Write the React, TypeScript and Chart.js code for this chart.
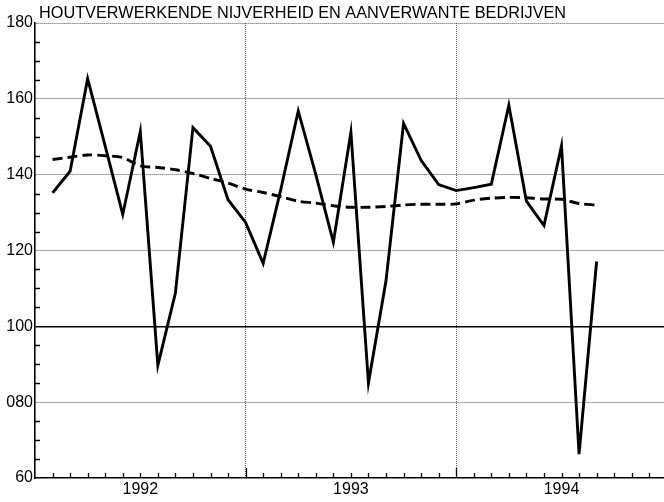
import React, { useEffect, useRef } from 'react';
import { Chart, registerables } from 'chart.js';

Chart.register(...registerables);

const TITLE = 'HOUTVERWERKENDE NIJVERHEID EN AANVERWANTE BEDRIJVEN';

const periods = [
  '1992-01', '1992-02', '1992-03', '1992-04', '1992-05', '1992-06',
  '1992-07', '1992-08', '1992-09', '1992-10', '1992-11', '1992-12',
  '1993-01', '1993-02', '1993-03', '1993-04', '1993-05', '1993-06',
  '1993-07', '1993-08', '1993-09', '1993-10', '1993-11', '1993-12',
  '1994-01', '1994-02', '1994-03', '1994-04', '1994-05', '1994-06',
  '1994-07', '1994-08',
];

const monthly = [
  135.2, 140.9, 165.3, 147.5, 129.5, 151.4, 89.7, 108.8, 152.4, 147.5, 133.4, 127.4,
  116.6, 136.0, 156.8, 140.0, 122.2, 151.2, 85.1, 112.0, 153.5, 143.8, 137.4, 135.8,
  136.6, 137.5, 158.3, 133.0, 126.6, 147.6, 66.3, 117.1,
];

const trend = [
  144.0, 144.6, 145.2, 145.0, 144.5, 142.3, 141.9, 141.3, 140.3, 139.0, 137.8, 136.2,
  135.3, 134.2, 133.0, 132.5, 131.8, 131.4, 131.4, 131.6, 132.0, 132.2, 132.2, 132.3,
  133.3, 133.8, 134.0, 133.9, 133.6, 133.5, 132.4, 132.0,
];

const yearLabels = ['1992', '1993', '1994'];
const firstYear = 1992;
const yTickValues = [60, 80, 100, 120, 140, 160, 180];
const yTickLabels = ['60', '080', '100', '120', '140', '160', '180'];

const FONT = '"Liberation Sans", Arial, sans-serif';
const DOT = '#555';

function monthIndex(p: string): number {
  const [y, m] = p.split('-').map(Number);
  return (y - firstYear) * 12 + m;
}

const titlePlugin = {
  id: 'leftTitle',
  afterDraw(chart: any) {
    const { ctx, chartArea } = chart;
    ctx.save();
    ctx.fillStyle = '#000';
    ctx.font = `16.3px ${FONT}`;
    ctx.textBaseline = 'alphabetic';
    ctx.textAlign = 'left';
    ctx.fillText(TITLE, chartArea.left + 4, 18.4);
    ctx.restore();
  },
};

const innerTicksPlugin = {
  id: 'innerTicks',
  afterDraw(chart: any) {
    const { ctx, chartArea } = chart;
    const xs = chart.scales.x;
    const ys = chart.scales.y;
    ctx.save();
    ctx.strokeStyle = '#000';
    ctx.lineWidth = 1.3;
    ctx.beginPath();
    const maxMonth = Math.floor(xs.max);
    for (let m = 1; m <= maxMonth; m++) {
      const px = Math.round(xs.getPixelForValue(m)) + 0.5;
      const len = m % 12 === 0 ? 10 : 5;
      ctx.moveTo(px, chartArea.bottom);
      ctx.lineTo(px, chartArea.bottom - len);
    }
    for (let v = ys.min + 5; v < ys.max; v += 5) {
      if (v % 20 === 0) continue;
      const py = Math.round(ys.getPixelForValue(v)) + 0.5;
      ctx.moveTo(chartArea.left, py);
      ctx.lineTo(chartArea.left + 5, py);
    }
    ctx.stroke();
    ctx.restore();
  },
};

export default function App() {
  const canvasRef = useRef<HTMLCanvasElement | null>(null);

  useEffect(() => {
    if (!canvasRef.current) return;
    const xs = periods.map(monthIndex);
    const chart = new Chart(canvasRef.current, {
      type: 'line',
      data: {
        datasets: [
          {
            label: 'Index',
            data: xs.map((x, i) => ({ x, y: monthly[i] })),
            borderColor: '#000',
            borderWidth: 2.9,
            pointRadius: 0,
            tension: 0,
            fill: false,
          },
          {
            label: 'Trend',
            data: xs.map((x, i) => ({ x, y: trend[i] })),
            borderColor: '#000',
            borderWidth: 2.9,
            borderDash: [10, 5],
            pointRadius: 0,
            tension: 0.3,
            fill: false,
          },
        ],
      },
      options: {
        animation: false,
        responsive: false,
        maintainAspectRatio: false,
        layout: { padding: { top: 23, left: 0, right: 0, bottom: 0 } },
        plugins: {
          legend: { display: false },
          title: { display: false },
          tooltip: { enabled: false },
        },
        scales: {
          x: {
            type: 'linear',
            min: 0,
            max: 35.84,
            afterBuildTicks: (scale: any) => {
              const t: any[] = [];
              yearLabels.forEach((_, i) => {
                t.push({ value: i * 12 + 6 });
                if (i > 0) t.push({ value: i * 12 });
              });
              t.sort((a, b) => a.value - b.value);
              scale.ticks = t;
            },
            afterFit: (scale: any) => {
              scale.height = 24;
            },
            ticks: {
              autoSkip: false,
              maxRotation: 0,
              padding: 2,
              color: '#000',
              font: { family: FONT, size: 16 },
              callback: (v: any) => {
                const n = Number(v);
                if (n % 12 === 6) return yearLabels[(n - 6) / 12];
                return '';
              },
            },
            grid: {
              drawTicks: false,
              color: (c: any) =>
                c.tick && c.tick.value % 12 === 0 ? DOT : 'rgba(0,0,0,0)',
              lineWidth: 1,
            },
            border: {
              display: true,
              color: '#000',
              width: 1.6,
              dash: (c: any) => (c.tick ? [1, 1] : []),
            },
          },
          y: {
            type: 'linear',
            min: 60,
            max: 180,
            afterBuildTicks: (scale: any) => {
              scale.ticks = yTickValues.map((v) => ({ value: v }));
            },
            afterFit: (scale: any) => {
              scale.width = 35;
            },
            ticks: {
              padding: 2,
              color: '#000',
              font: { family: FONT, size: 16 },
              callback: (v: any) => {
                const i = yTickValues.indexOf(Number(v));
                return i >= 0 ? yTickLabels[i] : '';
              },
            },
            grid: {
              drawTicks: false,
              color: (c: any) => {
                if (!c.tick) return DOT;
                if (c.tick.value === 100) return '#000';
                if (c.tick.value === 60) return 'rgba(0,0,0,0)';
                return DOT;
              },
              lineWidth: (c: any) => (c.tick && c.tick.value === 100 ? 1.6 : 1),
            },
            border: {
              display: true,
              color: '#000',
              width: 1.6,
              dash: (c: any) => (c.tick && c.tick.value !== 100 ? [1, 1] : []),
            },
          },
        },
      },
      plugins: [innerTicksPlugin, titlePlugin],
    });
    return () => chart.destroy();
  }, []);

  return (
    <div style={{ position: 'absolute', left: 0, top: 0, width: 664, height: 502, background: '#fff' }}>
      <canvas ref={canvasRef} width={664} height={502} style={{ width: 664, height: 502 }} />
    </div>
  );
}
